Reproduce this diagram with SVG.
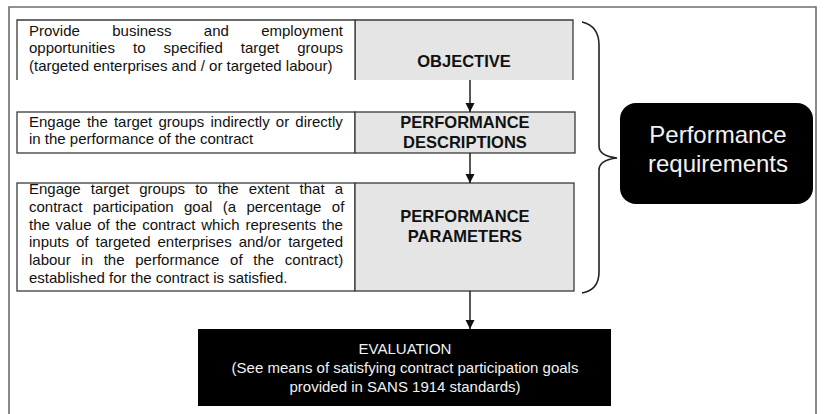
<svg xmlns="http://www.w3.org/2000/svg" width="824" height="414" viewBox="0 0 824 414">
<style>
.frame{fill:none;stroke:#6e6e6e;stroke-width:1.6}
.box{fill:#fff;stroke:#3a3a3a;stroke-width:1.3}
.gbox{fill:#e5e5e5;stroke:#3a3a3a;stroke-width:1.3}
.txt{font-family:"Liberation Sans",Arial,sans-serif;font-size:15px;fill:#111}
.lbl{font-family:"Liberation Sans",Arial,sans-serif;font-size:16.5px;font-weight:bold;fill:#111;text-anchor:middle}
.wtxt{font-family:"Liberation Sans",Arial,sans-serif;fill:#f2f2f2;text-anchor:middle}
.conn{stroke:#111;stroke-width:1.4;fill:none}
.brace{stroke:#222;stroke-width:1.6;fill:none}
</style>
<defs>
<marker id="ah" viewBox="0 0 10 10" refX="10" refY="5" markerWidth="9" markerHeight="10" markerUnits="userSpaceOnUse" orient="auto">
<path d="M0,0 L10,5 L0,10 Z" fill="#111"/>
</marker>
</defs>
<rect width="824" height="414" fill="#fff"/>
<path class="frame" d="M9,420 V7 H816 V420"/>

<g id="objective">
<path class="gbox" d="M355,80 V20 H573 V80"/>
<path class="box" d="M17,80 V20 H355 V80"/>
<text class="txt" x="29" y="35.5" word-spacing="28.2">Provide business and employment</text>
<text class="txt" x="29" y="53" word-spacing="13.9">opportunities to specified target groups</text>
<text class="txt" x="29" y="70.5">(targeted enterprises and / or targeted labour)</text>
<text class="lbl" x="464" y="67">OBJECTIVE</text>
</g>

<g id="descriptions">
<rect class="box" x="17" y="112" width="338" height="41"/>
<rect class="gbox" x="355" y="112" width="220" height="41"/>
<text class="txt" x="29" y="127" word-spacing="2.0">Engage the target groups indirectly or directly</text>
<text class="txt" x="29" y="143.5">in the performance of the contract</text>
<text class="lbl" x="465" y="128">PERFORMANCE</text>
<text class="lbl" x="465" y="148">DESCRIPTIONS</text>
</g>

<g id="parameters">
<rect class="box" x="17" y="183" width="338" height="108"/>
<rect class="gbox" x="355" y="183" width="219" height="108"/>
<text class="txt" x="29" y="194" word-spacing="5.9">Engage target groups to the extent that a</text>
<text class="txt" x="29" y="211.8" word-spacing="6.2">contract participation goal (a percentage of</text>
<text class="txt" x="29" y="229.6" word-spacing="1.6">the value of the contract which represents the</text>
<text class="txt" x="29" y="247.4" word-spacing="2.8">inputs of targeted enterprises and/or targeted</text>
<text class="txt" x="29" y="265.2" word-spacing="6.5">labour in the performance of the contract)</text>
<text class="txt" x="29" y="283">established for the contract is satisfied.</text>
<text class="lbl" x="465" y="222">PERFORMANCE</text>
<text class="lbl" x="465" y="242">PARAMETERS</text>
</g>

<g id="requirements">
<rect x="620" y="103" width="193" height="101" rx="16" ry="16" fill="#000"/>
<text class="wtxt" x="718" y="143" font-size="24">Performance</text>
<text class="wtxt" x="718" y="172" font-size="24">requirements</text>
</g>

<g id="evaluation">
<rect x="198" y="329" width="413" height="77" fill="#000"/>
<text class="wtxt" x="405" y="354" font-size="15">EVALUATION</text>
<text class="wtxt" x="405" y="373" font-size="15">(See means of satisfying contract participation goals</text>
<text class="wtxt" x="405" y="392" font-size="15">provided in SANS 1914 standards)</text>
</g>

<g id="connectors">
<line class="conn" x1="470" y1="80" x2="470" y2="112" marker-end="url(#ah)"/>
<line class="conn" x1="470" y1="153" x2="470" y2="183" marker-end="url(#ah)"/>
<line class="conn" x1="470" y1="291" x2="470" y2="329" marker-end="url(#ah)"/>
<path class="brace" d="M582,22 Q599,26 599,45 V146 Q599,156 617,158 Q599,160 599,170 V272 Q599,290 582,293"/>
</g>
</svg>
